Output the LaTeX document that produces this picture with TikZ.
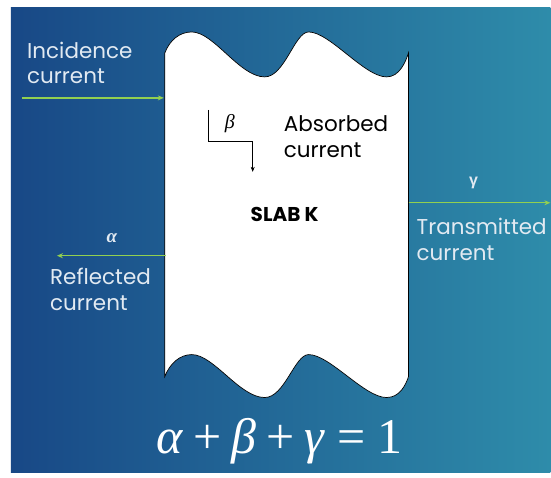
\RequirePackage{fix-cm}
\documentclass[tikz,border=0pt]{standalone}
\usepackage{fontspec}
\setmainfont{Poppins}
\newfontfamily\eqfont{Liberation Serif}
\newfontfamily\greeksans{Liberation Sans}
\usetikzlibrary{arrows.meta}
\definecolor{bgleft}{RGB}{24,72,134}
\definecolor{bgright}{RGB}{46,140,170}
\definecolor{raygreen}{RGB}{146,208,80}
\definecolor{labeltext}{RGB}{226,234,242}
\tikzset{
  ray/.style={draw=raygreen, line width=1.3pt, -{Stealth[length=6pt,width=5pt]}},
  lbl/.style={text=labeltext, font=\fontsize{21.5}{26}\selectfont, align=left, anchor=west, inner sep=0pt},
  coef/.style={inner sep=0pt},
}

\begin{document}
\begin{tikzpicture}[x=1pt,y=-1pt]
				\fill[white] (0,0) rectangle (551,478);
				\shade[left color=bgleft, right color=bgright] (11,8) rectangle (551,473);
				
				% slab with wavy cut ends
				\draw[fill=white, line width=0.7pt] (165,53) -- (165,377)
				  .. controls (170,364) and (180,355) .. (192,355)
				  .. controls (214,355) and (240,398) .. (265,398)
				  .. controls (285,398) and (295,355) .. (309,355)
				  .. controls (330,355) and (365,398) .. (387,398)
				  .. controls (400,398) and (406,386) .. (409,377)
				  -- (409,53)
				  .. controls (406,62) and (400,77) .. (387,77)
				  .. controls (365,77) and (330,32) .. (309,32)
				  .. controls (295,32) and (285,77) .. (265,77)
				  .. controls (240,77) and (214,32) .. (192,32)
				  .. controls (180,32) and (170,40) .. (165,53);
				
				\coordinate (inc start) at (22,98);
				\coordinate (inc end) at (164,98);
				\coordinate (refl start) at (166,256);
				\coordinate (refl end) at (57,256);
				\coordinate (trans start) at (409,203);
				\coordinate (trans end) at (551,203);
				\coordinate (abs start) at (209,110);
				\coordinate (abs end) at (253,172);
				
				\draw[ray] (inc start) -- (inc end);
				\draw[ray] (refl start) -- (refl end);
				\draw[ray] (trans start) -- (trans end);
				\draw[line width=0.6pt, -{Stealth[length=5pt,width=4pt]}] (abs start) -- ++(0,31) -| (abs end);
				
				\node[lbl] (incidence) at (27,63) {Incidence\\current};
				\node[lbl, text=black] (absorbed) at (284,137) {Absorbed\\current};
				\node[lbl] (transmitted) at (417,240) {Transmitted\\current};
				\node[lbl] (reflected) at (50,290) {Reflected\\current};
				
				\node[coef, text=labeltext, font=\eqfont\bfseries\itshape\fontsize{19}{22}\selectfont] (alpha) at (112,238) {α};
				\node[coef, text=black, font=\eqfont\itshape\fontsize{20}{22}\selectfont] (beta) at (230,124) {β};
				\node[coef, text=labeltext, font=\greeksans\bfseries\fontsize{16}{20}\selectfont] (gamma) at (474,183) {γ};
				
				\node[font=\bfseries\fontsize{20}{22}\selectfont, inner sep=0pt] (slab) at (285,215) {SLAB K};
				
				\node[text=white, font=\eqfont\fontsize{50}{54}\selectfont, inner sep=0pt] (sum) at (280,442) {\textit{α}\kern10pt+\kern10pt\textit{β}\kern10pt+\kern10pt\textit{γ}\kern12pt=\kern12pt1};
\end{tikzpicture}
\end{document}
